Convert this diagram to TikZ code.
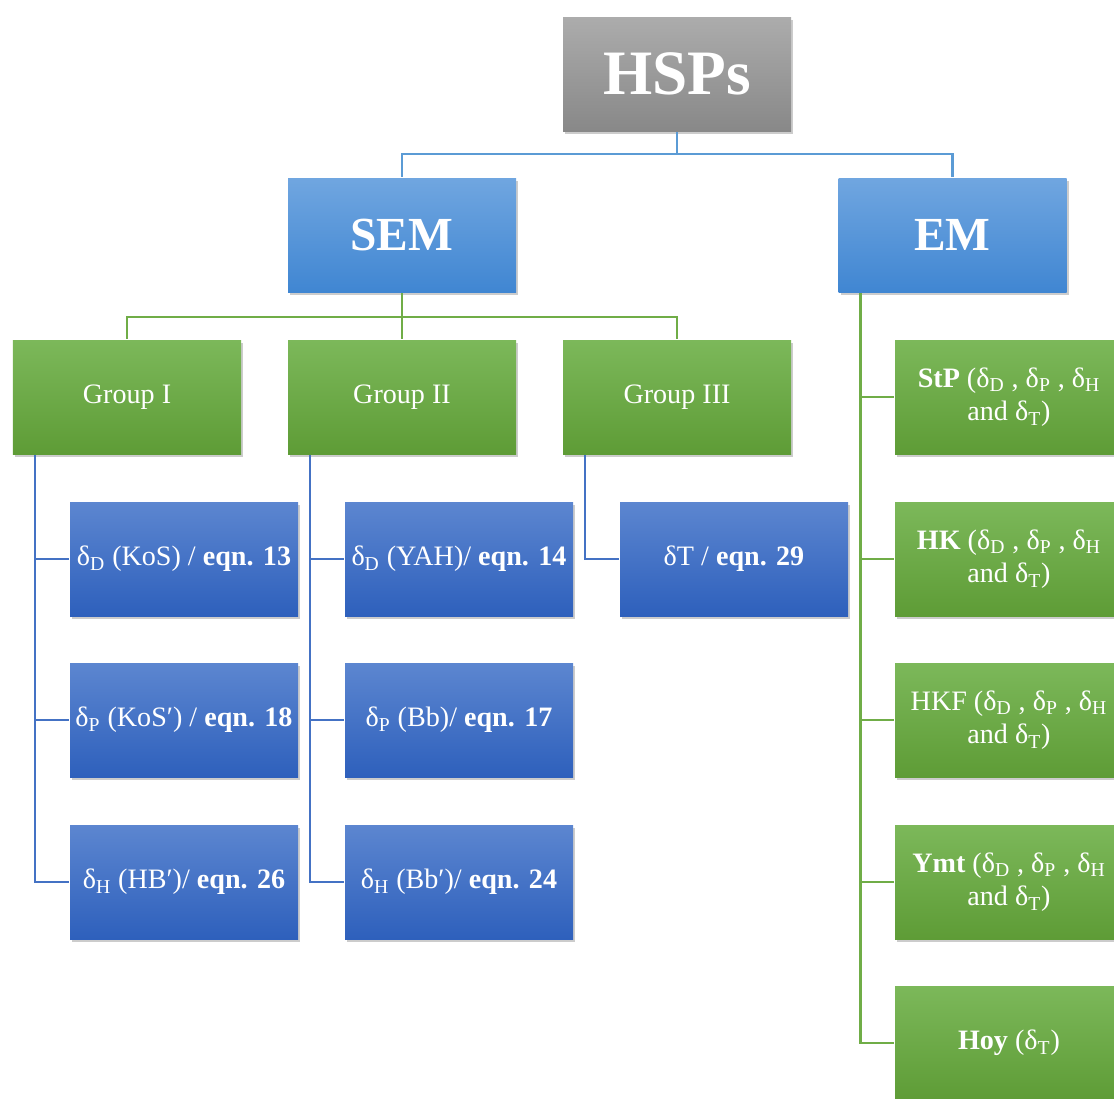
\documentclass[tikz,border=0pt]{standalone}
\usepackage{fontspec}
\setmainfont{Liberation Serif}
\usepackage{tikz}
\usetikzlibrary{shadows, calc, positioning}

\definecolor{grayTop}{RGB}{172,172,172}
\definecolor{grayBot}{RGB}{136,136,136}
\definecolor{skyTop}{RGB}{112,166,224}
\definecolor{skyBot}{RGB}{64,134,210}
\definecolor{leafTop}{RGB}{124,184,90}
\definecolor{leafBot}{RGB}{94,156,54}
\definecolor{navyTop}{RGB}{92,134,208}
\definecolor{navyBot}{RGB}{46,96,188}
\definecolor{lineSky}{RGB}{91,155,213}
\definecolor{lineLeaf}{RGB}{112,173,71}
\definecolor{lineNavy}{RGB}{68,114,196}

\begin{document}
\begin{tikzpicture}[
    line width=1.3pt,
    every node/.style={font=\fontsize{16}{19}\selectfont, text=white, align=center},
    box/.style={rectangle, minimum width=4.56cm, minimum height=2.28cm, inner sep=2pt,
        drop shadow={shadow xshift=1.2pt, shadow yshift=-1.8pt, opacity=0.4}},
    root/.style={box, top color=grayTop, bottom color=grayBot, font=\fontsize{36}{42}\selectfont\bfseries},
    branch/.style={box, top color=skyTop, bottom color=skyBot, font=\fontsize{27}{32}\selectfont\bfseries},
    group/.style={box, top color=leafTop, bottom color=leafBot},
    leaf/.style={box, top color=navyTop, bottom color=navyBot}
]
\useasboundingbox (0,0) rectangle (22.28,-21.96);

% Nodes
\node[root] (hsp) at (13.54,-1.48) {HSPs};
\node[branch] (sem) at (8.04,-4.70) {SEM};
\node[branch] (em) at (19.05,-4.70) {EM};

\node[group] (g1) at (2.54,-7.94) {Group I};
\node[group] (g2) at (8.04,-7.94) {Group II};
\node[group] (g3) at (13.54,-7.94) {Group III};

\node[leaf] (d1) at (3.68,-11.18) {δ\textsubscript{D} (KoS) / \textbf{eqn. 13}};
\node[leaf] (p1) at (3.68,-14.40) {δ\textsubscript{P} (KoS′) / \textbf{eqn. 18}};
\node[leaf] (h1) at (3.68,-17.64) {δ\textsubscript{H} (HB′)/ \textbf{eqn. 26}};
\node[leaf] (d2) at (9.18,-11.18) {δ\textsubscript{D} (YAH)/ \textbf{eqn. 14}};
\node[leaf] (p2) at (9.18,-14.40) {δ\textsubscript{P} (Bb)/ \textbf{eqn. 17}};
\node[leaf] (h2) at (9.18,-17.64) {δ\textsubscript{H} (Bb′)/ \textbf{eqn. 24}};
\node[leaf] (t3) at (14.68,-11.18) {δT / \textbf{eqn. 29}};

\node[group] (stp) at (20.18,-7.94) {\textbf{StP} (δ\textsubscript{D} , δ\textsubscript{P} , δ\textsubscript{H}\\and δ\textsubscript{T})};
\node[group] (hk) at (20.18,-11.18) {\textbf{HK} (δ\textsubscript{D} , δ\textsubscript{P} , δ\textsubscript{H}\\and δ\textsubscript{T})};
\node[group] (hkf) at (20.18,-14.40) {HKF (δ\textsubscript{D} , δ\textsubscript{P} , δ\textsubscript{H}\\and δ\textsubscript{T})};
\node[group] (ymt) at (20.18,-17.64) {\textbf{Ymt} (δ\textsubscript{D} , δ\textsubscript{P} , δ\textsubscript{H}\\and δ\textsubscript{T})};
\node[group] (hoy) at (20.18,-20.86) {\textbf{Hoy} (δ\textsubscript{T})};

% Top level links
\foreach \b in {sem,em}
    \draw[lineSky] (hsp.south) -- ++(0,-0.44) -| (\b.north);

% SEM to groups
\foreach \g in {g1,g2,g3}
    \draw[lineLeaf] (sem.south) -- ++(0,-0.48) -| (\g.north);

% Groups to equations
\foreach \g/\c in {g1/d1,g1/p1,g1/h1,g2/d2,g2/p2,g2/h2,g3/t3}
    \draw[lineNavy] (\g.south west) ++(0.46,0) |- (\c.west);

% EM to methods
\foreach \c in {stp,hk,hkf,ymt,hoy}
    \draw[lineLeaf] (em.south west) ++(0.46,0) |- (\c.west);

\end{tikzpicture}
\end{document}
